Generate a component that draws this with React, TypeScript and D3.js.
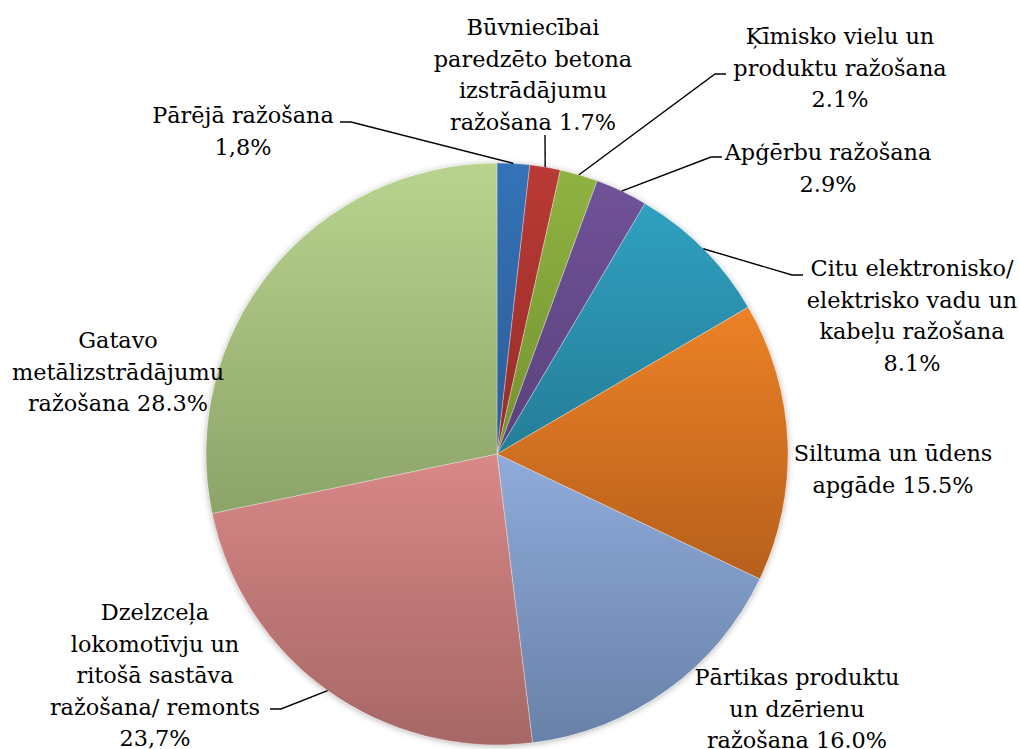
import React from 'react';
import * as d3 from 'd3';

// slices clockwise from 12 o'clock
const categories = [
  'Pārējā ražošana',
  'Būvniecībai paredzēto betona izstrādājumu ražošana',
  'Ķīmisko vielu un produktu ražošana',
  'Apģērbu ražošana',
  'Citu elektronisko/ elektrisko vadu un kabeļu ražošana',
  'Siltuma un ūdens apgāde',
  'Pārtikas produktu un dzērienu ražošana',
  'Dzelzceļa lokomotīvju un ritošā sastāva ražošana/ remonts',
  'Gatavo metālizstrādājumu ražošana',
];
const shares = [1.8, 1.7, 2.1, 2.9, 8.1, 15.5, 16.0, 23.7, 28.3];

// label text as wrapped in the original
const labelLines = [
  ['Pārējā ražošana', '1,8%'],
  ['Būvniecībai', 'paredzēto betona', 'izstrādājumu', 'ražošana 1.7%'],
  ['Ķīmisko vielu un', 'produktu ražošana', '2.1%'],
  ['Apģērbu ražošana', '2.9%'],
  ['Citu elektronisko/', 'elektrisko vadu un', 'kabeļu ražošana', '8.1%'],
  ['Siltuma un ūdens', 'apgāde 15.5%'],
  ['Pārtikas produktu', 'un dzērienu', 'ražošana 16.0%'],
  ['Dzelzceļa', 'lokomotīvju un', 'ritošā sastāva', 'ražošana/ remonts', '23,7%'],
  ['Gatavo', 'metālizstrādājumu', 'ražošana 28.3%'],
];

// gradient top / bottom colours
const colorTop = ['#3572b8', '#ba3a35', '#8fb342', '#705298', '#30a0c0', '#ec8226', '#90abda', '#d88887', '#b9d38f'];
const colorBottom = ['#2b5d97', '#962d29', '#74922f', '#5a427c', '#247d97', '#b65f1c', '#6781a8', '#a66766', '#8ca468'];

// label placement: centre x, first-line baseline y, leader anchor (null = no leader)
const labelLayout: { x: number; y: number; lead: [number, number] | null; side: number }[] = [
  { x: 243, y: 123, lead: [340, 122], side: 1 },
  { x: 533, y: 35, lead: [545, 135], side: 0 },
  { x: 840, y: 44, lead: [726, 74], side: -1 },
  { x: 828, y: 160, lead: [722, 157], side: -1 },
  { x: 912, y: 276, lead: [803, 275], side: -1 },
  { x: 893, y: 461, lead: null, side: 0 },
  { x: 797, y: 685, lead: null, side: 0 },
  { x: 155, y: 620, lead: [270, 709], side: 1 },
  { x: 118, y: 348, lead: null, side: 0 },
];

const W = 1020;
const H = 749;
const cx = 497;
const cy = 454;
const R = 291;
const lineH = 31.5;

export default function App() {
  const pie = d3.pie<number>().sort(null).value((d) => d);
  const arcs = pie(shares);
  const arc = d3.arc<d3.PieArcDatum<number>>().innerRadius(0).outerRadius(R);

  return (
    <svg
      width={W}
      height={H}
      style={{ position: 'absolute', left: 0, top: 0, background: '#fff' }}
      fontFamily="'DejaVu Serif', serif"
      fontSize={22.4}
    >
      <defs>
        {categories.map((c, i) => (
          <linearGradient key={c} id={`g${i}`} x1="0" y1="0" x2="0" y2="1">
            <stop offset="0" stopColor={colorTop[i]} />
            <stop offset="1" stopColor={colorBottom[i]} />
          </linearGradient>
        ))}
        <filter id="shadow" x="-10%" y="-10%" width="120%" height="120%">
          <feDropShadow dx="0" dy="1" stdDeviation="3" floodColor="#000" floodOpacity="0.3" />
        </filter>
      </defs>

      <g transform={`translate(${cx},${cy})`}>
        <circle r={R} fill="#fff" filter="url(#shadow)" />
        {arcs.map((a, i) => (
          <path key={categories[i]} d={arc(a) ?? ''} fill={`url(#g${i})`} stroke="#fff" strokeOpacity={0.5} strokeWidth={0.6} />
        ))}
      </g>

      {arcs.map((a, i) => {
        const lay = labelLayout[i];
        if (!lay.lead) return null;
        const mid = (a.startAngle + a.endAngle) / 2;
        const ex = cx + R * Math.sin(mid);
        const ey = cy - R * Math.cos(mid);
        const [lx, ly] = lay.lead;
        const pts =
          lay.side === 0
            ? [[lx, ly], [ex, ey]]
            : [[lx, ly], [lx + lay.side * 11, ly], [ex, ey]];
        return (
          <polyline
            key={`l${i}`}
            points={pts.map((p) => p.join(',')).join(' ')}
            fill="none"
            stroke="#000"
            strokeWidth={1.4}
          />
        );
      })}

      {labelLines.map((lines, i) => {
        const lay = labelLayout[i];
        return (
          <text key={`t${i}`} x={lay.x} y={lay.y} textAnchor="middle" fill="#000">
            {lines.map((ln, j) => (
              <tspan key={j} x={lay.x} y={lay.y + j * lineH}>
                {ln}
              </tspan>
            ))}
          </text>
        );
      })}
    </svg>
  );
}
